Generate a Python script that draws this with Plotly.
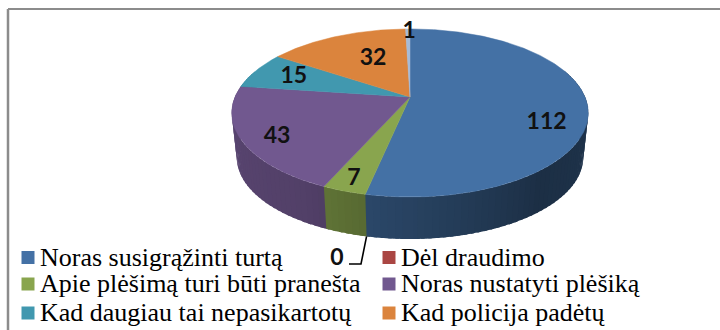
import numpy as np
import plotly.graph_objects as go

# --- data ---
categories = ["Noras susigrąžinti turtą", "Dėl draudimo", "Apie plėšimą turi būti pranešta",
              "Noras nustatyti plėšiką", "Kad daugiau tai nepasikartotų", "Kad policija padėtų", ""]
values = [112, 0, 7, 43, 15, 32, 1]
colors = ["#4471A5", "#AA4643", "#89A54E", "#71588F", "#4198AF", "#DB843D", "#A5BBD8"]

# --- layout of the tilted pie (screen pixels) ---
CX, CY, A, B, K = 410, 97, 175, 81, 0.19
BOT_SCALE, BOT_CY = 0.972, 141.8
label_shift = [14.7, 0, 0, -2.6, 1.7, 6, 0.5]
label_r = [0.79, 0, 0.874, 0.82, 0.756, 0.593, 0.98]
LABEL_DY = 2
LABEL_FONT = "Lato"
LEGEND_FONT = "Liberation Serif"
legend_x = [28, 389, 28, 389, 28, 389]
legend_y = [257.5, 257.5, 284, 284, 313, 313]
TEXT_GAP = 12
TEXT_DY = 1.5

total = sum(values)
edges = np.cumsum([0] + values) / total * 360.0


def top(theta, r=1.0):
    t = np.radians(theta)
    u, v = r * np.sin(t), -r * np.cos(t)
    d = 1 - K * v
    return CX + A * u / d, CY + B * v / d


def bottom(theta):
    x, y = top(theta)
    return CX + BOT_SCALE * (x - CX), BOT_CY + BOT_SCALE * (y - CY)


def shade(hex_color, f):
    rgb = [int(hex_color[i:i + 2], 16) for i in (1, 3, 5)]
    return "rgb(%d,%d,%d)" % tuple(int(c * f) for c in rgb)


fig = go.Figure()

# side wall, as thin shaded strips, back to front; each strip runs slightly under the next one
step = 2.0
wall = []
for i, val in enumerate(values):
    if val == 0:
        continue
    a = edges[i]
    while a < edges[i + 1] - 1e-9:
        b = min(a + step, edges[i + 1])
        wall.append((a, b, colors[i]))
        a = b
wall = [w for w in wall if 70 <= (w[0] + w[1]) / 2 <= 290]
wall.sort(key=lambda w: abs((w[0] + w[1]) / 2 - 180), reverse=True)
for a, b, col in wall:
    mid = (a + b) / 2
    f = float(np.interp(mid, [90, 140, 190, 210, 250, 285], [0.47, 0.42, 0.63, 0.73, 0.78, 0.86]))
    if mid < 180:
        tx = np.linspace(a, b + 1.0, 5)
    else:
        tx = np.linspace(a - 1.0, b, 5)
    xt, yt = top(tx)
    xb, yb = bottom(tx)
    fig.add_trace(go.Scatter(x=np.r_[xt, xb[::-1]], y=np.r_[yt, yb[::-1]], mode="none",
                             fill="toself", fillcolor=shade(col, f),
                             hoverinfo="skip", showlegend=False))

# top surface
for i, val in enumerate(values):
    if val == 0:
        continue
    th = np.linspace(edges[i], edges[i + 1], max(3, int(val * 3)))
    x, y = top(th)
    fig.add_trace(go.Scatter(x=np.r_[CX, x, CX], y=np.r_[CY, y, CY], mode="lines", fill="toself",
                             fillcolor=colors[i], line=dict(color=colors[i], width=0.5),
                             name=categories[i] or str(val), showlegend=False))

# value labels
lx, ly, lt = [], [], []
for i, val in enumerate(values):
    if val == 0:
        continue
    x, y = top((edges[i] + edges[i + 1]) / 2 + label_shift[i], label_r[i])
    lx.append(float(x)); ly.append(float(y) + LABEL_DY); lt.append(str(val))
label_font = dict(family=LABEL_FONT, size=23, color="#111111", weight="bold")
fig.add_trace(go.Scatter(x=lx, y=ly, text=lt, mode="text", textposition="middle center",
                         textfont=label_font, hoverinfo="skip", showlegend=False))

# zero label with its leader
sx, sy = bottom(edges[1])
fig.add_trace(go.Scatter(x=[float(sx), 361, 349], y=[float(sy), 264, 264], mode="lines",
                         line=dict(color="#000000", width=1.6), hoverinfo="skip", showlegend=False))
fig.add_trace(go.Scatter(x=[337], y=[257 + LABEL_DY], text=[str(values[1])], mode="text",
                         textposition="middle center", textfont=label_font,
                         hoverinfo="skip", showlegend=False))

# legend
n = 6
fig.add_trace(go.Scatter(x=legend_x, y=legend_y, mode="markers",
                         marker=dict(symbol="square", size=13, color=colors[:n], line=dict(width=0)),
                         hoverinfo="skip", showlegend=False))
fig.add_trace(go.Scatter(x=[v + TEXT_GAP for v in legend_x], y=[v + TEXT_DY for v in legend_y],
                         mode="text", text=categories[:n], textposition="middle right",
                         textfont=dict(family=LEGEND_FONT, size=26, color="#000000"),
                         hoverinfo="skip", showlegend=False))

# frame
fig.add_shape(type="line", x0=8, x1=8, y0=9, y1=330, line=dict(color="#8C8C8C", width=2.5))
fig.add_shape(type="line", x0=8, x1=720, y0=9, y1=9, line=dict(color="#8C8C8C", width=2))

fig.update_layout(
    width=720, height=330, margin=dict(l=0, r=0, t=0, b=0),
    paper_bgcolor="#FFFFFF", plot_bgcolor="#FFFFFF", showlegend=False,
    xaxis=dict(range=[0, 720], visible=False, fixedrange=True),
    yaxis=dict(range=[330, 0], visible=False, fixedrange=True),
)
fig.write_html("out.html", config=dict(displayModeBar=False),
               post_script="document.body.style.margin='0';document.documentElement.style.overflow='hidden';")
